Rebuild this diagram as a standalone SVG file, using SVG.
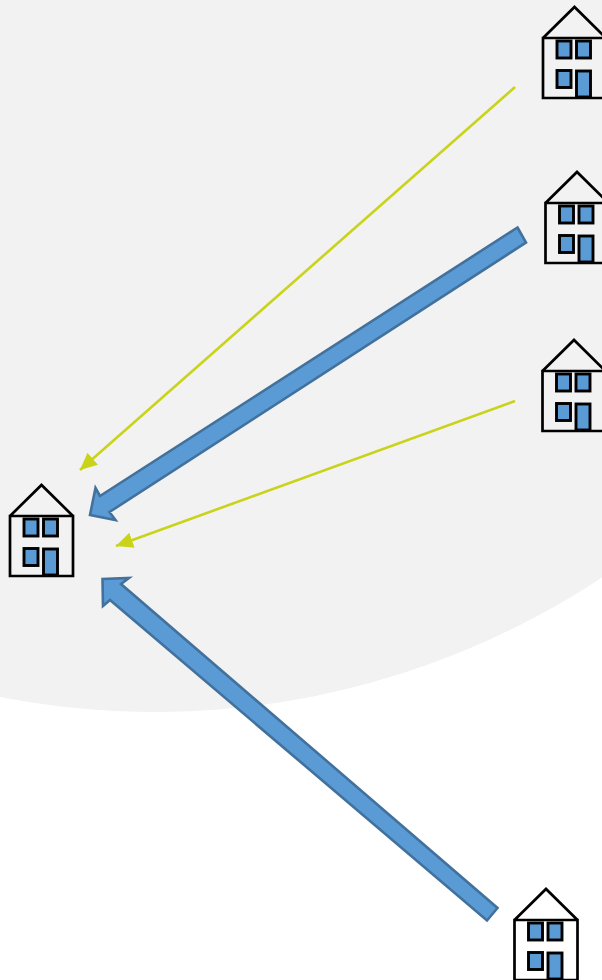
<svg xmlns="http://www.w3.org/2000/svg" width="602" height="980" viewBox="0 0 602 980">
<style>
.wall{fill:none;stroke:#000;stroke-width:2.7}
.win{fill:#5b9bd5;stroke:#000;stroke-width:2.9}
.thick{fill:#5b9bd5;stroke:#41719c;stroke-width:2.6;stroke-linejoin:miter}
.thin{fill:none;stroke:#c9d31a;stroke-width:2.6}
</style>
<defs>
<marker id="tip" markerUnits="userSpaceOnUse" markerWidth="20" markerHeight="18" refX="17" refY="8" orient="auto"><path d="M0 0L17 8L0 16Z" fill="#c9d31a"/></marker>
<g id="house">
<path class="wall" d="M0 31L31.500 0L63 31M0 31H63V91H0Z"/>
<rect class="win" x="14" y="34" width="14" height="17"/>
<rect class="win" x="33.500" y="34" width="14" height="17"/>
<rect class="win" x="14" y="63.500" width="14" height="17"/>
<rect class="win" x="33.500" y="64" width="14" height="26"/>
</g>
</defs>
<rect width="602" height="980" fill="#fff"/>
<circle id="backdrop" cx="155" cy="-98" r="810" fill="#f2f2f2"/>
<g id="connectors">
<path class="thin" marker-end="url(#tip)" d="M515 87L80 470"/>
<path class="thin" marker-end="url(#tip)" d="M515 401L116 546"/>
<path class="thick" d="M517.500 227.500L526 242.500L109.500 512L115.500 520L90 515L95.500 488L100 496Z"/>
<path class="thick" d="M497.500 908L487 920.500L110 600L103 606L102.500 579L129 578L121 584Z"/>
</g>
<g id="house-left"><use href="#house" x="10" y="485"/></g>
<g id="house-top"><use href="#house" x="543" y="7"/></g>
<g id="house-upper"><use href="#house" x="545.500" y="172"/></g>
<g id="house-middle"><use href="#house" x="542.500" y="340"/></g>
<g id="house-bottom"><use href="#house" x="514.500" y="889"/></g>
</svg>
